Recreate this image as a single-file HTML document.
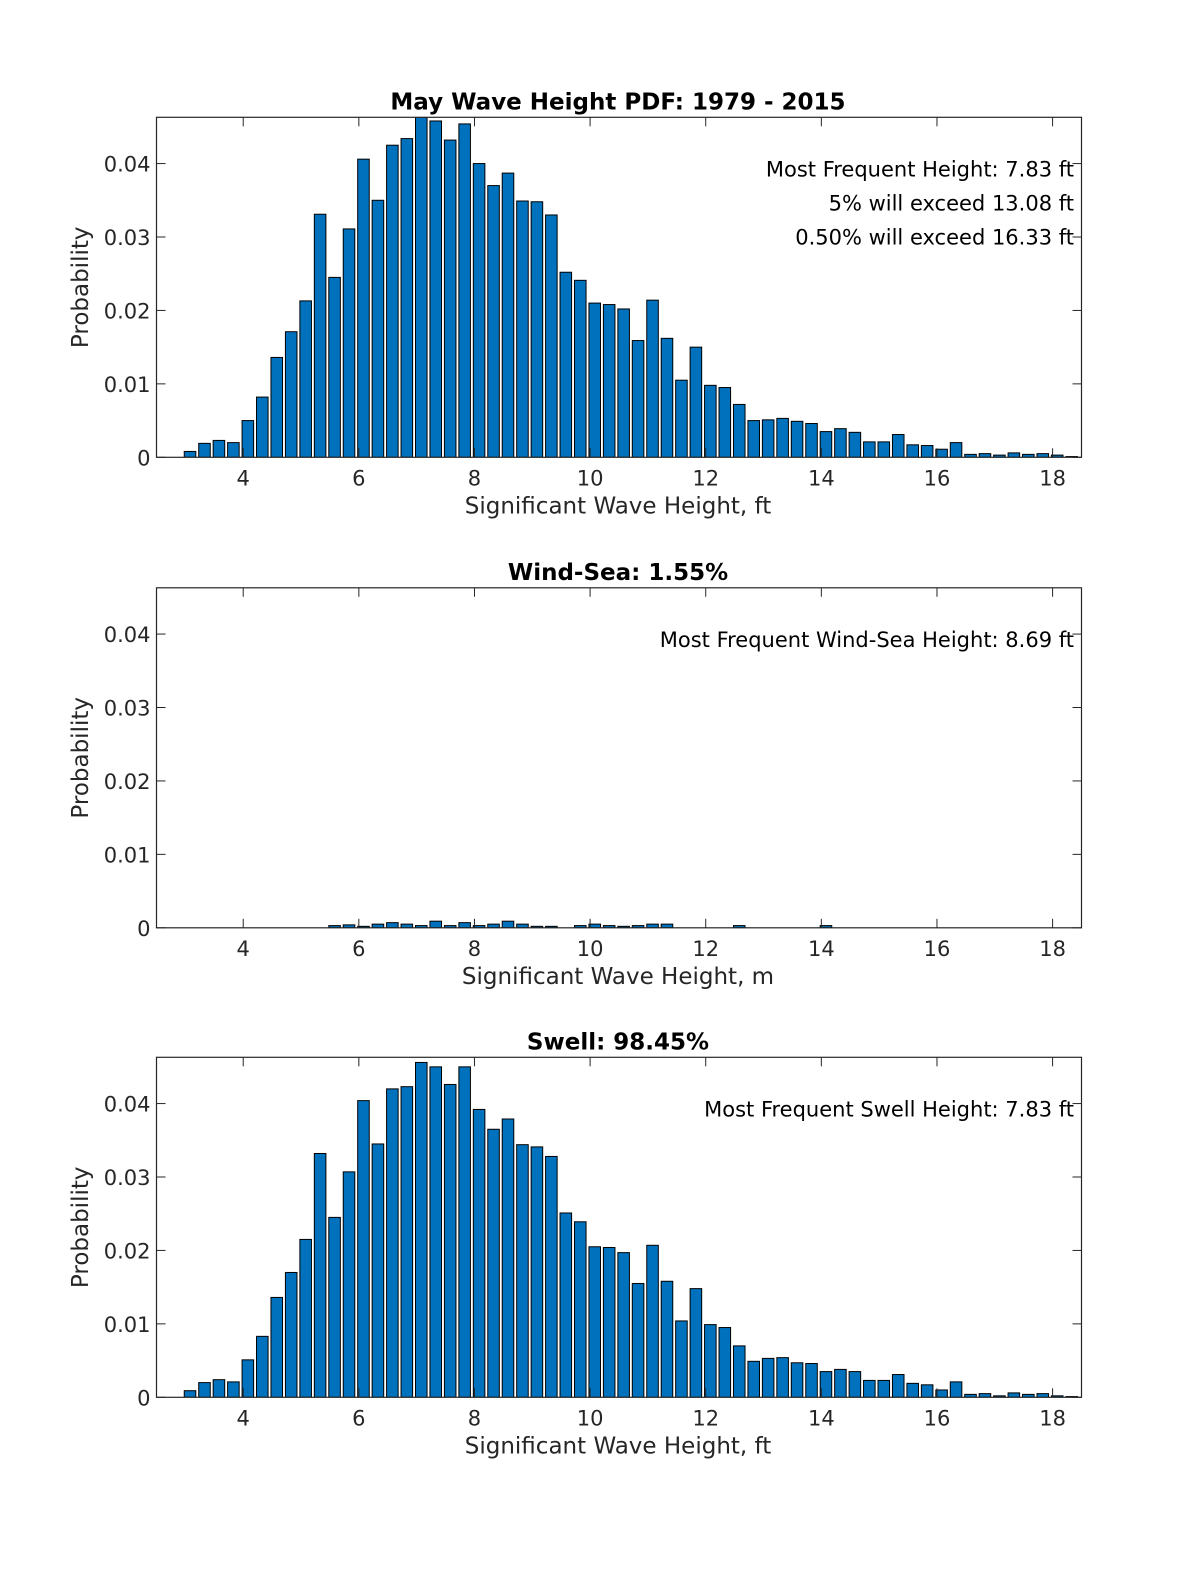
<!DOCTYPE html>
<html><head><meta charset="utf-8"><style>
html,body{margin:0;padding:0;background:#fff;overflow:hidden;width:1200px;height:1575px}
svg{display:block}
text{font-family:"DejaVu Sans","Liberation Sans",sans-serif;fill:#262626}
</style></head><body>
<svg id="fig" width="1200" height="1575" viewBox="0 0 1200 1575" xmlns="http://www.w3.org/2000/svg"></svg>
<script>
// Bin centers (ft): 3.08 + 0.25k
const binStart = 3.08;
const binStep = 0.25;
const totalPdf = [0.0008,0.0019,0.0023,0.0020,0.0050,0.0082,0.0136,0.0171,0.0213,0.0331,0.0245,0.0311,0.0406,0.0350,0.0425,0.0434,0.0470,0.0458,0.0432,0.0454,0.0400,0.0370,0.0387,0.0349,0.0348,0.0330,0.0252,0.0241,0.0210,0.0208,0.0202,0.0159,0.0214,0.0162,0.0105,0.0150,0.0098,0.0095,0.0072,0.0050,0.0051,0.0053,0.0049,0.0046,0.0035,0.0039,0.0034,0.0021,0.0021,0.0031,0.0017,0.0016,0.0011,0.0020,0.0004,0.0005,0.0003,0.0006,0.0004,0.0005,0.0003,0.0001];
const windPdf = [null,null,null,null,null,null,0,0,0,0,0.0003,0.0004,0.0002,0.0005,0.0007,0.0005,0.0003,0.0009,0.0003,0.0007,0.0003,0.0005,0.0009,0.0005,0.0002,0.0002,0,0.0003,0.0005,0.0003,0.0002,0.0003,0.0005,0.0005,0,0,0,0,0.0003,0,0,0,0,0,0.0003,0,0,0,0,0,0,0,0,0,0,0,0,0,0,0,0,0];
const swellPdf = [0.0009,0.0020,0.0024,0.0021,0.0051,0.0083,0.0136,0.0170,0.0215,0.0332,0.0245,0.0307,0.0404,0.0345,0.0420,0.0423,0.0456,0.0450,0.0426,0.0450,0.0392,0.0365,0.0379,0.0344,0.0341,0.0328,0.0251,0.0239,0.0205,0.0204,0.0197,0.0155,0.0207,0.0158,0.0104,0.0148,0.0099,0.0095,0.0070,0.0049,0.0053,0.0054,0.0047,0.0046,0.0035,0.0038,0.0035,0.0023,0.0023,0.0031,0.0019,0.0017,0.0010,0.0021,0.0004,0.0005,0.0002,0.0006,0.0004,0.0005,0.0002,0.0001];
const xTicks = [4,6,8,10,12,14,16,18];
const yTicks = [0,0.01,0.02,0.03,0.04];
const yTickLabels = ["0","0.01","0.02","0.03","0.04"];
const titles = ["May Wave Height PDF: 1979 - 2015","Wind-Sea: 1.55%","Swell: 98.45%"];
const xLabels = ["Significant Wave Height, ft","Significant Wave Height, m","Significant Wave Height, ft"];
const annotations = [["Most Frequent Height: 7.83 ft","5% will exceed 13.08 ft","0.50% will exceed 16.33 ft"],["Most Frequent Wind-Sea Height: 8.69 ft"],["Most Frequent Swell Height: 7.83 ft"]];

const NS="http://www.w3.org/2000/svg";
const svg=document.getElementById('fig');
function mk(tag,attrs,parent){const e=document.createElementNS(NS,tag);for(const k in attrs)e.setAttribute(k,attrs[k]);(parent||svg).appendChild(e);return e;}
const L=156.5,R=1081.5,xMin=2.5,xMax=18.5,yMax=0.0463;
const tops=[117.3,587.8,1057.3],H=340;
const sets=[totalPdf,windPdf,swellPdf];
const names=["total","wind-sea","swell"];
sets.forEach((vals,p)=>{
  const T=tops[p],B=T+H;
  const sx=v=>L+(v-xMin)/(xMax-xMin)*(R-L);
  const sy=v=>B-Math.min(v,yMax)/yMax*H;
  const g=mk('g',{});
  
  
  const cp=mk('clipPath',{id:'cp'+p},g);mk('rect',{x:L,y:T,width:R-L,height:H},cp);
  const bars=mk('g',{'clip-path':'url(#cp'+p+')'},g);
  const w=binStep*0.8*(R-L)/(xMax-xMin);
  vals.forEach((v,i)=>{
    if(v===null)return;
    const c=binStart+i*binStep;
    const y=sy(v);
    const r=mk('rect',{x:sx(c)-w/2,y:y,width:w,height:Math.max(B-y,0),fill:'#0072BD',stroke:'#000','stroke-width':1},bars);
    
    
  });
  const box=mk('rect',{x:L,y:T,width:R-L,height:H,fill:'none',stroke:'#262626','stroke-width':1.2},g);
  
  
  xTicks.forEach(t=>{const x=sx(t);
    mk('line',{x1:x,x2:x,y1:B,y2:B-9,stroke:'#262626'},g);
    mk('line',{x1:x,x2:x,y1:T,y2:T+9,stroke:'#262626'},g);
    const tx=mk('text',{x:x,y:B+28,'font-size':21,'text-anchor':'middle'},g);tx.textContent=t;
    
    
  });
  yTicks.forEach((t,i)=>{const y=sy(t);
    mk('line',{x1:L,x2:L+9,y1:y,y2:y,stroke:'#262626'},g);
    mk('line',{x1:R,x2:R-9,y1:y,y2:y,stroke:'#262626'},g);
    const tx=mk('text',{x:L-6,y:y+8,'font-size':21,'text-anchor':'end'},g);tx.textContent=yTickLabels[i];
    
    
  });
  const tt=mk('text',{x:618,y:T-8,'font-size':23,'font-weight':'bold','text-anchor':'middle',style:'fill:#000'},g);tt.textContent=titles[p];
  
  
  const xl=mk('text',{x:618,y:B+56,'font-size':23,'text-anchor':'middle'},g);xl.textContent=xLabels[p];
  
  
  const yl=mk('text',{x:0,y:0,'font-size':23,'text-anchor':'middle',transform:'translate(88,'+(T+H/2)+') rotate(-90)'},g);yl.textContent='Probability';
  
  
  annotations[p].forEach((s,i)=>{
    const a=mk('text',{x:1074,y:T+59+i*34,'font-size':21,'text-anchor':'end',style:'fill:#000'},g);a.textContent=s;
    
    
  });
});
</script>
</body></html>
